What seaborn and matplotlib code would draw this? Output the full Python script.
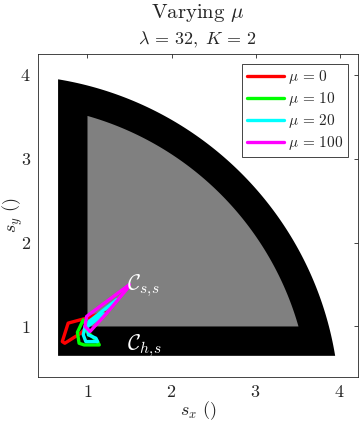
import numpy as np
import pandas as pd
import matplotlib
matplotlib.use("Agg")
import matplotlib.pyplot as plt
import seaborn as sns

# trajectories, one per mu
mu_values = [0, 10, 20, 100]
colors = ['#ff0000', '#00ff00', '#00ffff', '#ff00ff']

red_x = [1.20, 0.99, 0.77, 0.70, 0.73, 0.92, 1.00, 1.20]
red_y = [1.17, 1.10, 1.04, 0.82, 0.80, 0.92, 1.00, 1.17]

green_x = [1.00, 0.95, 0.88, 0.90, 0.96, 1.14, 1.12, 1.00, 0.97, 1.00]
green_y = [1.08, 1.08, 0.93, 0.80, 0.78, 0.78, 0.82, 0.86, 0.96, 1.05]

cyan_x = [1.35, 1.02, 0.97, 0.95, 0.98, 1.12, 1.10, 1.01, 1.00, 1.20, 1.35]
cyan_y = [1.32, 1.06, 1.00, 0.90, 0.82, 0.82, 0.86, 0.90, 1.00, 1.15, 1.32]

magenta_x = [1.50, 1.15, 0.99, 0.97, 1.03, 1.23, 1.48]
magenta_y = [1.50, 1.24, 1.12, 1.00, 0.94, 1.16, 1.46]

# safe sets: inner box corner and radius, plus hard margin
inner_lo = 1.0
inner_r = 3.65
margin = 0.35

sns.set_style("white")
plt.rcParams['font.family'] = ['cmr10', 'DejaVu Serif']
plt.rcParams['mathtext.fontset'] = 'cm'
plt.rcParams['axes.formatter.use_mathtext'] = True

frames = []
for mu, xs, ys in zip(mu_values, [red_x, green_x, cyan_x, magenta_x],
                      [red_y, green_y, cyan_y, magenta_y]):
    frames.append(pd.DataFrame({'sx': xs, 'sy': ys,
                                'mu': f'$\\mu \\,=\\, {mu}$'}))
df = pd.concat(frames, ignore_index=True)


def region(lo, r, n=200):
    t0 = np.arcsin(lo / r)
    t = np.linspace(np.pi / 2 - t0, t0, n)
    xs = np.concatenate([[lo], r * np.cos(t), [lo]])
    ys = np.concatenate([[lo], r * np.sin(t), [lo]])
    return xs, ys


fig = plt.figure(figsize=(3.61, 4.21), dpi=100)
ax = fig.add_axes([0.105, 0.105, 0.887, 0.767])

ox, oy = region(inner_lo - margin, inner_r + margin)
ax.fill(ox, oy, color='black', lw=0, zorder=1)
ix, iy = region(inner_lo, inner_r)
ax.fill(ix, iy, color='#808080', lw=0, zorder=2)

for (name, g), c in zip(df.groupby('mu', sort=False), colors):
    sns.lineplot(x=g['sx'], y=g['sy'], sort=False, color=c, lw=2.4, ax=ax,
                 label=name, zorder=3)

ax.text(1.47, 1.49, r'$\mathcal{C}_{s,\!s}$', color='white', fontsize=16,
        va='center', ha='left', zorder=4)
ax.text(1.47, 0.77, r'$\mathcal{C}_{h,\!s}$', color='white', fontsize=16,
        va='center', ha='left', zorder=4)

ax.set_xlim(0.41, 4.22)
ax.set_ylim(0.40, 4.25)
ax.set_xticks([1, 2, 3, 4])
ax.set_yticks([1, 2, 3, 4])
ax.tick_params(direction='in', length=3, width=0.6, colors='#262626',
               labelsize=13, top=True, right=True, pad=5)
for s in ax.spines.values():
    s.set_color('#262626')
    s.set_linewidth(0.6)
ax.set_xlabel(r'$s_x\ ()$', fontsize=13, labelpad=0)
ax.set_ylabel(r'$s_y\ ()$', fontsize=13)
ax.yaxis.set_label_coords(-0.04, 0.5)

fig.text(0.548, 0.968, r'Varying $\mu$', ha='center', va='center', fontsize=15)
fig.text(0.548, 0.904, r'$\lambda \,=\, 32,\ K \,=\, 2$', ha='center',
         va='center', fontsize=13)

leg = ax.legend(loc='upper right', bbox_to_anchor=(0.969, 0.969), borderaxespad=0,
                fontsize=11, handlelength=2.4, fancybox=False, framealpha=1,
                edgecolor='#262626', labelspacing=0.25, borderpad=0.3,
                handletextpad=0.3)
leg.get_frame().set_linewidth(0.6)

fig.savefig('out.png', dpi=100)
